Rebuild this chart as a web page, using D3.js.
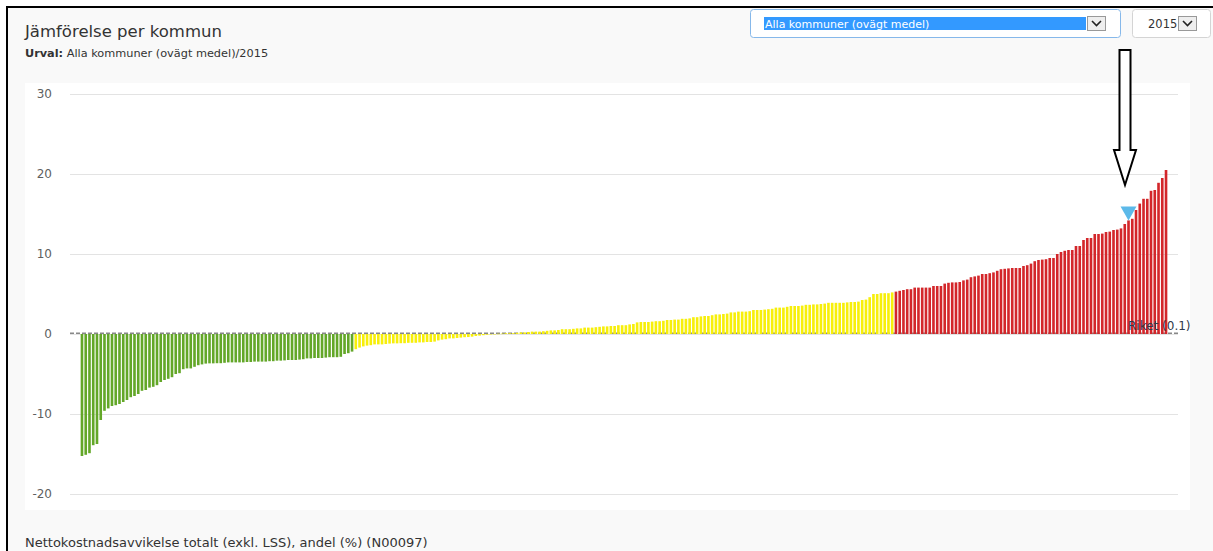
<!DOCTYPE html>
<html>
<head>
<meta charset="utf-8">
<script src="https://cdn.jsdelivr.net/npm/d3@7/dist/d3.min.js"></script>
<style>
  html, body { margin: 0; padding: 0; background: #ffffff; }
  svg { display: block; font-family: "DejaVu Sans", Verdana, sans-serif; }
</style>
</head>
<body>
<svg id="chart" width="1213" height="551"></svg>
<script>
// ---- Data ----
const lowValues = [ // green group (lowest quartile)
  -15.25, -15.1, -14.9, -13.9, -13.75, -10.75, -9.6, -9.3, -9.0, -8.9,
  -8.75, -8.5, -8.25, -7.9, -7.75, -7.5, -7.1, -7.0, -6.7, -6.6,
  -6.4, -6.0, -5.75, -5.6, -5.4, -5.0, -4.9, -4.4, -4.3, -4.3,
  -4.1, -3.9, -3.8, -3.7, -3.67, -3.67, -3.65, -3.65, -3.6, -3.55,
  -3.55, -3.55, -3.55, -3.55, -3.5, -3.5, -3.45, -3.45, -3.45, -3.45,
  -3.4, -3.4, -3.33, -3.33, -3.3, -3.25, -3.25, -3.25, -3.2, -3.15,
  -3.05, -3.05, -3.0, -3.0, -3.0, -2.95, -2.9, -2.9, -2.9, -2.85,
  -2.5, -2.4, -2.2
];
const midValues = [ // yellow group (middle half)
  -1.9, -1.7, -1.55, -1.45, -1.4, -1.3, -1.3, -1.3, -1.25, -1.2,
  -1.17, -1.17, -1.15, -1.15, -1.1, -1.1, -1.1, -1.05, -1.05, -1.0,
  -1.0, -0.95, -0.8, -0.7, -0.65, -0.55, -0.55, -0.5, -0.45, -0.4,
  -0.38, -0.33, -0.25, -0.2, -0.15, -0.1, -0.05, 0.0, 0.03, 0.05,
  0.1, 0.1, 0.1, 0.15, 0.2, 0.2, 0.25, 0.3, 0.3, 0.3,
  0.35, 0.4, 0.45, 0.45, 0.5, 0.6, 0.6, 0.6, 0.65, 0.7,
  0.7, 0.8, 0.8, 0.8, 0.85, 0.9, 0.95, 0.95, 1.0, 1.0,
  1.1, 1.1, 1.1, 1.2, 1.25, 1.45, 1.5, 1.5, 1.5, 1.55,
  1.6, 1.6, 1.65, 1.75, 1.75, 1.8, 1.8, 1.9, 1.9, 1.95,
  2.1, 2.1, 2.2, 2.25, 2.25, 2.35, 2.45, 2.45, 2.5, 2.55,
  2.7, 2.7, 2.8, 2.8, 2.8, 2.85, 3.0, 3.0, 3.0, 3.05,
  3.1, 3.15, 3.3, 3.3, 3.3, 3.4, 3.5, 3.5, 3.5, 3.55,
  3.65, 3.65, 3.7, 3.7, 3.75, 3.8, 3.9, 3.9, 3.9, 3.9,
  3.9, 3.95, 4.0, 4.0, 4.05, 4.25, 4.3, 4.6, 5.0, 5.0,
  5.1, 5.1, 5.1, 5.2
];
const highValues = [ // red group (highest quartile)
  5.3, 5.4, 5.5, 5.6, 5.6, 5.8, 5.8, 5.8, 5.8, 5.8,
  6.0, 6.0, 6.0, 6.3, 6.4, 6.45, 6.45, 6.5, 6.7, 6.8,
  7.1, 7.2, 7.3, 7.5, 7.5, 7.6, 7.7, 7.9, 8.1, 8.15,
  8.2, 8.25, 8.25, 8.25, 8.5, 8.6, 8.8, 9.1, 9.25, 9.3,
  9.35, 9.5, 9.5, 10.0, 10.25, 10.4, 10.5, 10.5, 11.0, 11.0,
  11.75, 12.0, 12.0, 12.5, 12.5, 12.55, 12.75, 12.8, 13.0, 13.05,
  13.2, 13.75, 14.2, 14.4, 15.5, 16.3, 16.9, 16.9, 17.9, 18.0,
  18.9, 19.5, 20.5
];
const groupColors = { low: "#63a728", mid: "#f7ef0a", high: "#d3262a" };
const yTicks = [-20, -10, 0, 10, 20, 30];
const riketValue = 0.1;
const selectedIndex = 279; // highlighted kommun (marker)

const titleText = "Jämförelse per kommun";
const subtitleBold = "Urval:";
const subtitleRest = " Alla kommuner (ovägt medel)/2015";
const selectText = "Alla kommuner (ovägt medel)";
const yearText = "2015";
const footerText = "Nettokostnadsavvikelse totalt (exkl. LSS), andel (%) (N00097)";

// ---- Build combined series ----
const bars = [];
lowValues.forEach(v => bars.push({ v, g: "low" }));
midValues.forEach(v => bars.push({ v, g: "mid" }));
highValues.forEach(v => bars.push({ v, g: "high" }));
bars.forEach((d, i) => d.i = i);

const svg = d3.select("#chart");

// page frame
svg.append("rect").attr("x", 7).attr("y", 7).attr("width", 1206).attr("height", 544).attr("fill", "#f9f9f9");
svg.append("line").attr("x1", 7).attr("x2", 7).attr("y1", 6).attr("y2", 551).attr("stroke", "#000").attr("stroke-width", 2);
svg.append("line").attr("x1", 6).attr("x2", 1213).attr("y1", 7).attr("y2", 7).attr("stroke", "#000").attr("stroke-width", 2);

// title & subtitle
svg.append("text").attr("x", 25).attr("y", 37).attr("font-size", 16.5).attr("fill", "#333").text(titleText);
const sub = svg.append("text").attr("x", 25).attr("y", 57).attr("font-size", 11.3).attr("fill", "#333");
sub.append("tspan").attr("font-weight", "bold").text(subtitleBold);
sub.append("tspan").text(subtitleRest);

// select box
svg.append("rect").attr("x", 750.5).attr("y", 9.5).attr("width", 370).attr("height", 28).attr("rx", 3)
  .attr("fill", "#fff").attr("stroke", "#86b8ea");
svg.append("rect").attr("x", 764).attr("y", 17).attr("width", 322).attr("height", 13).attr("fill", "#3399ff");
svg.append("text").attr("x", 765).attr("y", 27.5).attr("font-size", 11).attr("fill", "#fff").text(selectText);
function dropButton(x, y) {
  svg.append("rect").attr("x", x + 0.5).attr("y", y + 0.5).attr("width", 18).attr("height", 14)
    .attr("fill", "#eeeeee").attr("stroke", "#999");
  svg.append("path").attr("d", `M${x + 5},${y + 5} L${x + 9.5},${y + 9.5} L${x + 14},${y + 5}`)
    .attr("fill", "none").attr("stroke", "#222").attr("stroke-width", 1.6);
}
dropButton(1087, 16);
svg.append("rect").attr("x", 1132.5).attr("y", 9.5).attr("width", 78).attr("height", 28).attr("rx", 3)
  .attr("fill", "#fff").attr("stroke", "#d4d4d4");
svg.append("text").attr("x", 1148).attr("y", 28).attr("font-size", 11.5).attr("fill", "#333").text(yearText);
dropButton(1178, 16);

// plot area background
svg.append("rect").attr("x", 25).attr("y", 83).attr("width", 1165).attr("height", 427).attr("fill", "#fff");

// scales
const y = d3.scaleLinear().domain([-20, 30]).range([494, 94]);
const x = d3.scaleBand().domain(bars.map(d => d.i)).range([80.1, 1167.9]).paddingInner(0.3).paddingOuter(0.15);

// grid + y axis
const yAxis = d3.axisLeft(y).tickValues(yTicks).tickSize(-(1178 - 70)).tickPadding(18).tickFormat(d => String(d));
const ga = svg.append("g").attr("transform", "translate(70,0)").call(yAxis);
ga.select(".domain").remove();
ga.selectAll(".tick line").attr("stroke", "#e3e3e3").attr("stroke-width", 1);
ga.selectAll(".tick text").attr("font-size", 12).attr("fill", "#606060").attr("font-family", "DejaVu Sans, Verdana, sans-serif");

// riket reference line (behind bars)
svg.append("line").attr("x1", 70).attr("x2", 1178).attr("y1", y(riketValue)).attr("y2", y(riketValue))
  .attr("stroke", "#888").attr("stroke-width", 1.5).attr("stroke-dasharray", "4,2");

// bars
svg.append("g").selectAll("rect").data(bars).join("rect")
  .attr("x", d => x(d.i))
  .attr("width", x.bandwidth())
  .attr("y", d => y(Math.max(0, d.v)))
  .attr("height", d => Math.max(0.5, Math.abs(y(d.v) - y(0))))
  .attr("fill", d => groupColors[d.g]);

// riket label
svg.append("text").attr("x", 1128).attr("y", 330).attr("font-size", 12).attr("fill", "#2f3a4a").text("Riket (0.1)");

// marker triangle for selected
const sel = bars[selectedIndex];
const sx = x(sel.i) + x.bandwidth() / 2;
const sy = y(sel.v);
svg.append("path").attr("d", `M${sx - 8},${sy - 14} L${sx + 8},${sy - 14} L${sx},${sy} Z`).attr("fill", "#5cb9e9");

// annotation arrow
svg.append("path")
  .attr("d", "M1119.5,50 L1130.5,50 L1130.5,150 L1136,150 L1125,185 L1114,150 L1119.5,150 Z")
  .attr("fill", "#fff").attr("stroke", "#000").attr("stroke-width", 2).attr("stroke-linejoin", "miter");

// footer
svg.append("text").attr("x", 25).attr("y", 547).attr("font-size", 13).attr("fill", "#333").text(footerText);
</script>
</body>
</html>
